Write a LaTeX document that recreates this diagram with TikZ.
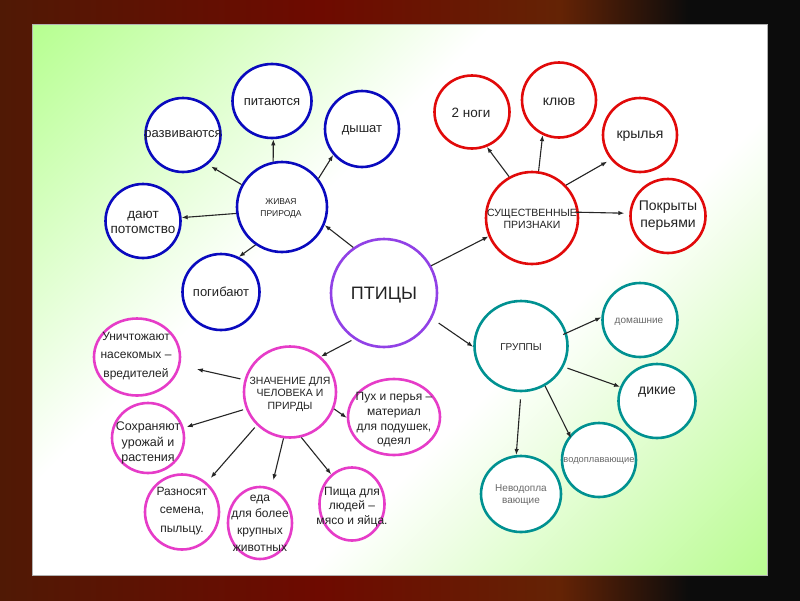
\documentclass[tikz,border=0pt]{standalone}
\usepackage{fontspec}
\setmainfont{Liberation Sans}
\usetikzlibrary{shapes.geometric,arrows.meta}
\definecolor{cblue}{RGB}{10,10,190}
\definecolor{cred}{RGB}{225,10,10}
\definecolor{cpurp}{RGB}{145,65,230}
\definecolor{cteal}{RGB}{0,145,145}
\definecolor{cpink}{RGB}{230,60,200}
\definecolor{ctext}{RGB}{35,35,35}
\definecolor{cgrey}{RGB}{105,105,105}
\definecolor{pgreen}{RGB}{160,255,110}
\definecolor{pgreenb}{RGB}{150,250,90}
\definecolor{bga}{RGB}{80,25,5}
\definecolor{bgb}{RGB}{110,10,0}
\definecolor{bgc}{RGB}{100,35,5}
\definecolor{bgd}{RGB}{12,12,12}
\pgfdeclarehorizontalshading{bgshade}{100bp}{color(0bp)=(bga); color(25bp)=(bga); color(45bp)=(bgb); color(60bp)=(bgc); color(68bp)=(bgd); color(100bp)=(bgd)}
\pgfdeclarehorizontalshading{panelshade}{100bp}{color(0bp)=(pgreen); color(15bp)=(pgreen!75!white); color(40bp)=(white); color(60bp)=(white); color(85bp)=(pgreenb!65!white); color(100bp)=(pgreenb)}
\tikzset{
  bub/.style={ellipse, draw, line width=2.6pt, fill=white, inner sep=0pt},
  cB/.style={bub, draw=cblue},
  cR/.style={bub, draw=cred},
  cP/.style={bub, draw=cpurp},
  cT/.style={bub, draw=cteal},
  cK/.style={bub, draw=cpink},
  txt/.style={align=center, text=ctext, inner sep=0pt},
  gtxt/.style={align=center, text=cgrey, inner sep=0pt},
  arr/.style={-{Latex[length=6pt,width=4.5pt]}, line width=1.1pt, draw=black!85},
}
\newcommand{\fs}[2]{\fontsize{#1}{#2}\selectfont}
\begin{document}
\begin{tikzpicture}[x=1pt,y=-1pt]
\useasboundingbox (0,0) rectangle (800,600);
\shade[shading=bgshade] (0,0) rectangle (800,600);
\shade[shading=panelshade, shading angle=-45] (32,24) rectangle (767,575);
\draw[gray!60, line width=0.6pt] (32,24) rectangle (767,575);

% blue group
\node[cB, minimum width=90pt, minimum height=90pt] (zhiv) at (282,207) {};
\node[cB, minimum width=79pt, minimum height=74pt] (pit) at (272,101) {};
\node[cB, minimum width=75pt, minimum height=74pt] (razv) at (183,135) {};
\node[cB, minimum width=74pt, minimum height=76pt] (dysh) at (362,129) {};
\node[cB, minimum width=75pt, minimum height=74pt] (dayut) at (143,221) {};
\node[cB, minimum width=77pt, minimum height=76pt] (pogib) at (221,292) {};
% purple
\node[cP, minimum width=106pt, minimum height=108pt] (ptitsy) at (384,293) {};
% red group
\node[cR, minimum width=92pt, minimum height=92pt] (sush) at (532,218) {};
\node[cR, minimum width=75pt, minimum height=73pt] (nogi) at (472,112) {};
\node[cR, minimum width=74pt, minimum height=75pt] (klyuv) at (559,100) {};
\node[cR, minimum width=74pt, minimum height=74pt] (kryl) at (640,135) {};
\node[cR, minimum width=75pt, minimum height=74pt] (pokr) at (668,216) {};
% teal group
\node[cT, minimum width=93pt, minimum height=90pt] (grup) at (521,346) {};
\node[cT, minimum width=75pt, minimum height=74pt] (dom) at (640,320) {};
\node[cT, minimum width=77pt, minimum height=74pt] (dik) at (657,401) {};
\node[cT, minimum width=74pt, minimum height=74pt] (vodo) at (599,460) {};
\node[cT, minimum width=80pt, minimum height=76pt] (nevodo) at (521,494) {};
% pink group
\node[cK, minimum width=92pt, minimum height=91pt] (znach) at (290,392) {};
\node[cK, minimum width=86pt, minimum height=77pt] (unich) at (137,357) {};
\node[cK, minimum width=72pt, minimum height=70pt] (sokhr) at (148,438) {};
\node[cK, minimum width=74pt, minimum height=75pt] (razn) at (182,512) {};
\node[cK, minimum width=64pt, minimum height=72pt] (eda) at (260,523) {};
\node[cK, minimum width=65pt, minimum height=73pt] (pishcha) at (352,504) {};
\node[cK, minimum width=92pt, minimum height=76pt] (pukh) at (394,417) {};

% texts
\node[txt, font=\fs{8.5}{12}] (tzhiv) at (281,208) {ЖИВАЯ\\ПРИРОДА};
\node[txt, font=\fs{13}{15}] (tpit) at (272,102) {питаются};
\node[txt, font=\fs{13}{15}] (trazv) at (183,135) {развиваются};
\node[txt, font=\fs{13}{15}] (tdysh) at (362,130) {дышат};
\node[txt, font=\fs{13.5}{15}] (tdayut) at (143,222) {дают\\потомство};
\node[txt, font=\fs{13}{15}] (tpogib) at (221,292) {погибают};
\node[txt, font=\fs{18}{20}] (tptitsy) at (384,295) {ПТИЦЫ};
\node[txt, font=\fs{10.5}{12}] (tsush) at (532,219) {СУЩЕСТВЕННЫЕ\\ПРИЗНАКИ};
\node[txt, font=\fs{13.5}{15}] (tnogi) at (471,113) {2 ноги};
\node[txt, font=\fs{14}{15}] (tklyuv) at (559,102) {клюв};
\node[txt, font=\fs{14}{15}] (tkryl) at (640,136) {крылья};
\node[txt, font=\fs{14}{17}] (tpokr) at (668,216) {Покрыты\\перьями};
\node[txt, font=\fs{10}{12}] (tgrup) at (521,347) {ГРУППЫ};
\node[gtxt, font=\fs{10}{12}] (tdom) at (639,322) {домашние};
\node[txt, font=\fs{14}{15}] (tdik) at (657,392) {дикие};
\node[gtxt, font=\fs{9.3}{11}] (tvodo) at (599,461) {водоплавающие};
\node[gtxt, font=\fs{10}{11.5}] (tnevodo) at (521,495) {Неводопла\\вающие};
\node[txt, font=\fs{10.5}{12.5}] (tznach) at (290,394) {ЗНАЧЕНИЕ ДЛЯ\\ЧЕЛОВЕКА И\\ПРИРДЫ};
\node[txt, font=\fs{12}{18.5}] (tunich) at (136,356) {Уничтожают\\насекомых –\\вредителей};
\node[txt, font=\fs{12.5}{15.5}] (tsokhr) at (148,443) {Сохраняют\\урожай и\\растения};
\node[txt, font=\fs{12}{18.5}] (trazn) at (182,511) {Разносят\\семена,\\пыльцу.};
\node[txt, font=\fs{12}{16.7}] (teda) at (260,523) {еда\\для более\\крупных\\животных};
\node[txt, font=\fs{12}{14.5}] (tpishcha) at (352,507) {Пища для\\людей –\\мясо и яйца.};
\node[txt, font=\fs{12}{14.7}] (tpukh) at (394,420) {Пух и перья –\\материал\\для подушек,\\одеял};

% arrows
\draw[arr, shorten >=4pt] (zhiv.151) -- (razv.-50);
\draw[arr] (zhiv.101) -- (pit.-88);
\draw[arr] (zhiv.38) -- (dysh.222);
\draw[arr] (zhiv.188) -- (dayut.5);
\draw[arr] (zhiv.235) -- (pogib.63);
\draw[arr] (ptitsy.124) -- (zhiv.-23);
\draw[arr] (ptitsy.30) -- (sush.203);
\draw[arr] (sush.119) -- (nogi.-67);
\draw[arr] (sush.82) -- (klyuv.245);
\draw[arr, shorten >=4pt] (sush.44) -- (kryl.220);
\draw[arr, shorten <=-4pt, shorten >=5pt] (sush.7) -- (pokr.176);
\draw[arr, shorten <=8pt] (ptitsy.-28) -- (grup.181);
\draw[arr, shorten <=-4pt] (grup.16) -- (dom.176);
\draw[arr, shorten <=4pt] (grup.-26) -- (dik.159);
\draw[arr, shorten >=-3pt] (grup.-59) -- (vodo.140);
\draw[arr, shorten <=7pt] (grup.-90) -- (nevodo.97);
\draw[arr, shorten <=3pt] (ptitsy.237) -- (znach.49);
\draw[arr, shorten <=4pt, shorten >=17pt] (znach.165) -- (unich.-11);
\draw[arr, shorten <=3pt, shorten >=3pt] (znach.201) -- (sokhr.16);
\draw[arr, shorten <=3pt, shorten >=6pt] (znach.225) -- (razn.50);
\draw[arr, shorten >=8pt] (znach.262) -- (eda.72);
\draw[arr] (znach.-76) -- (pishcha.125);
\draw[arr] (znach.-21) -- (pukh.181);
\end{tikzpicture}
\end{document}
